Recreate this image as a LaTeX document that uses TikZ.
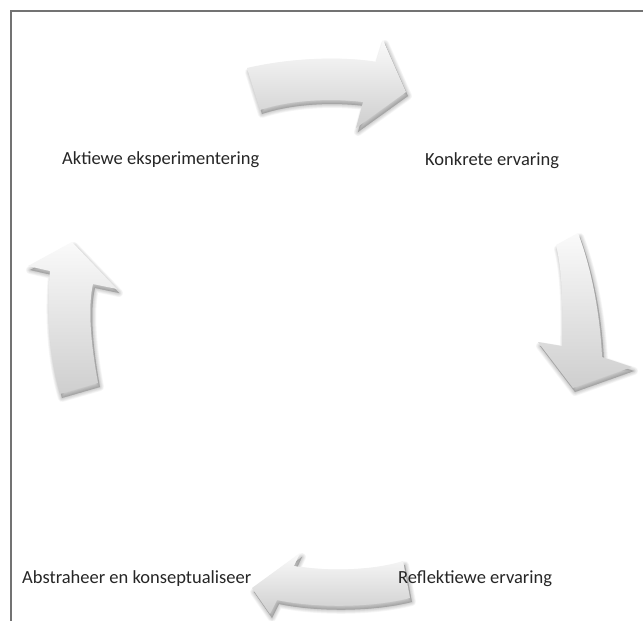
\documentclass[tikz,border=0pt]{standalone}
\usepackage{fontspec}
\setmainfont{Carlito}
\tikzset{
  lbl/.style={font=\fontsize{18.5}{22}\selectfont, text=black!85, anchor=base west, inner sep=0pt},
  frameline/.style={draw=black!55, line width=1.4pt},
  arrowfill/.style={top color=black!2, bottom color=black!19, draw=none},
  arrowshadow/.style={fill=black, fill opacity=0.035, draw=black, draw opacity=0.035, line join=round},
}
\def\arrTop{(247,68) .. controls (290,58) and (340,56) .. (376,62) -- (383,40) -- (406,92) -- (356,128) -- (363,102) .. controls (330,98) and (290,100) .. (260,110) -- cycle}
\def\arrRight{(556,245) -- (578,233) .. controls (592,270) and (600,315) .. (602,357) -- (632,367) -- (573,388) -- (538,342) -- (562,346) .. controls (563,300) and (562,270) .. (556,245) -- cycle}
\def\arrLeft{(60,394) .. controls (50,360) and (46,315) .. (50,271) -- (28,266) -- (72,242) -- (117,289) -- (93,284) .. controls (88,305) and (90,340) .. (98,383) -- cycle}
\def\arrBottom{(410,598) .. controls (370,608) and (315,608) .. (277,600) -- (270,614) -- (252,588) -- (300,553) -- (294,566) .. controls (330,572) and (375,570) .. (403,561) -- cycle}
\newcommand\cyclearrow[1]{%
  \foreach \w in {0.5,2,3.5,5,6.5,8}{\path[arrowshadow, line width=\w pt, shift={(2,4)}] #1;}%
  \path[arrowfill] #1;%
}
\begin{document}
\begin{tikzpicture}[x=1pt,y=-1pt]
\useasboundingbox (0,0) rectangle (643,621);
\fill[white] (0,0) rectangle (643,621);
\begin{scope}
\clip (0,0) rectangle (643,621);
\draw[frameline] (11,621) -- (11,11) -- (643,11);
\cyclearrow{\arrTop}
\cyclearrow{\arrRight}
\cyclearrow{\arrBottom}
\cyclearrow{\arrLeft}
\end{scope}
\node[lbl] (t1) at (62,164) {Aktiewe eksperimentering};
\node[lbl] (t2) at (425,165) {Konkrete ervaring};
\node[lbl] (t3) at (398,583) {Reflektiewe ervaring};
\node[lbl] (t4) at (22,583) {Abstraheer en konseptualiseer};
\end{tikzpicture}
\end{document}
